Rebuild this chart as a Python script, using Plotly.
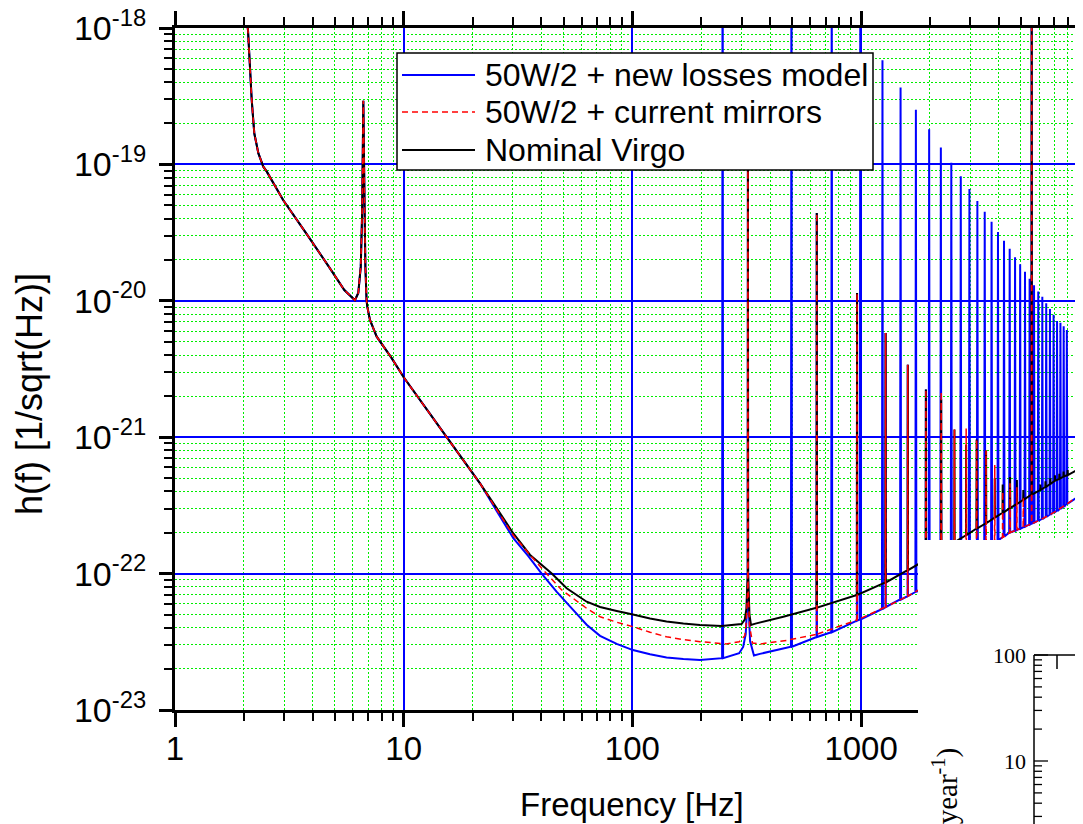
import numpy as np
import plotly.graph_objects as go

# ---------------- data ----------------
# common low-frequency part (all three curves coincide)
f_low = [2.03, 2.085, 2.127, 2.165, 2.222, 2.314, 2.433, 2.52, 2.97, 3.8, 4.76, 5.5,
         6.12, 6.33, 6.49, 6.58, 6.66, 6.75, 6.80, 6.88, 6.93, 7.12, 7.62, 8.86, 10.0,
         15.42, 21.56]
h_low = [1.41e-18, 9.66e-19, 5.20e-19, 2.96e-19, 1.69e-19, 1.21e-19, 9.62e-20, 8.85e-20,
         5.48e-20, 3.02e-20, 1.73e-20, 1.20e-20, 1.01e-20, 1.14e-20, 1.78e-20, 4.40e-20,
         2.93e-19, 4.37e-20, 1.78e-20, 1.01e-20, 9.06e-21, 7.24e-21, 5.46e-21, 3.80e-21,
         2.75e-21, 1.0e-21, 4.59e-22]

# Nominal Virgo (black)
f_black = [25.5, 30.15, 35.7, 44.4, 51.6, 63.1, 72.2, 85.4, 100.5, 119.4, 141, 167, 197.5,
           245.6, 300, 310, 315, 320, 325, 330, 345, 457, 640, 960, 1280, 1600, 1920, 2240,
           2560, 2880, 3200, 3520, 3840, 4160, 4480, 4800, 5120, 5570, 6080, 6400, 6720, 7040,
           7360, 7680, 8000, 9333, 10000]
h_black = [3.02e-22, 1.97e-22, 1.37e-22, 1.0e-22, 7.80e-23, 6.22e-23, 5.69e-23, 5.32e-23,
           5.01e-23, 4.68e-23, 4.45e-23, 4.30e-23, 4.20e-23, 4.13e-23, 4.27e-23, 4.6e-23,
           5.5e-23, 1.0e-22, 5.0e-23, 4.2e-23, 4.3e-23, 4.83e-23, 5.62e-23, 6.97e-23, 8.61e-23,
           1.06e-22, 1.26e-22, 1.48e-22, 1.70e-22, 1.91e-22, 2.14e-22, 2.34e-22, 2.57e-22,
           2.79e-22, 3.02e-22, 3.24e-22, 3.47e-22, 3.80e-22, 4.10e-22, 4.31e-22, 4.54e-22,
           4.79e-22, 4.95e-22, 5.14e-22, 5.28e-22, 6.08e-22, 6.46e-22]

# 50W/2 + current mirrors (red dashed)
f_red = [25.5, 30.15, 36.0, 42.1, 49.1, 63.1, 72.2, 85.4, 100.5, 119.4, 141, 167, 197.5, 257,
         293, 310, 315, 320, 325, 335, 363, 472, 640, 960, 1280, 1600, 1920, 2240, 2560, 2880,
         3200, 3520, 3840, 4160, 4480, 4800, 5120, 5570, 6056, 7000, 7925, 9333, 10000]
h_red = [2.95e-22, 1.91e-22, 1.35e-22, 1.0e-22, 7.59e-23, 5.56e-23, 4.83e-23, 4.40e-23,
         4.08e-23, 3.72e-23, 3.44e-23, 3.28e-23, 3.17e-23, 3.05e-23, 3.16e-23, 3.5e-23,
         4.5e-23, 8.0e-23, 4.2e-23, 3.1e-23, 3.05e-23, 3.24e-23, 3.59e-23, 4.57e-23, 5.69e-23,
         6.84e-23, 8.13e-23, 9.55e-23, 1.10e-22, 1.24e-22, 1.40e-22, 1.55e-22, 1.70e-22,
         1.84e-22, 2.0e-22, 2.09e-22, 2.19e-22, 2.32e-22, 2.47e-22, 2.82e-22, 3.24e-22,
         3.88e-22, 4.17e-22]

# 50W/2 + new losses model (blue)
f_blue = [25.5, 30.15, 35.0, 40.1, 46.6, 54.8, 63.1, 72.2, 85.4, 100.5, 119.4, 141, 167, 197.5,
          248, 293, 305, 313, 320, 327, 340, 361, 496, 640, 744, 960, 992, 1240, 1280, 1488,
          1600, 1736, 1920, 1984, 2232, 2480, 2728, 2976, 3224, 3472, 3720, 3968, 4216, 4464,
          4712, 4960, 5208, 5456, 5570, 5704, 5952, 6200, 6448, 6696, 6944, 7192, 7440, 7688,
          7936, 9333, 10000]
h_blue = [2.88e-22, 1.82e-22, 1.35e-22, 1.0e-22, 7.38e-23, 5.47e-23, 4.22e-23, 3.50e-23,
          3.05e-23, 2.75e-23, 2.56e-23, 2.43e-23, 2.37e-23, 2.33e-23, 2.40e-23, 2.61e-23,
          2.9e-23, 3.6e-23, 7.0e-23, 3.2e-23, 2.51e-23, 2.58e-23, 2.91e-23, 3.43e-23, 3.72e-23,
          4.52e-23, 4.62e-23, 5.50e-23, 5.69e-23, 6.46e-23, 6.84e-23, 7.33e-23, 8.13e-23,
          8.36e-23, 9.55e-23, 1.06e-22, 1.17e-22, 1.29e-22, 1.41e-22, 1.53e-22, 1.64e-22,
          1.76e-22, 1.87e-22, 2.0e-22, 2.06e-22, 2.14e-22, 2.21e-22, 2.29e-22, 2.32e-22,
          2.37e-22, 2.44e-22, 2.52e-22, 2.61e-22, 2.70e-22, 2.80e-22, 2.88e-22, 2.99e-22,
          3.09e-22, 3.24e-22, 3.88e-22, 4.17e-22]

# resonance lines (peak heights)
mirror_f = [320, 640, 960, 1280, 1600, 1920, 2240, 2560, 2880, 3200, 3520, 3840, 4160, 4480,
            4800, 5120, 5570, 6080, 6400, 6720, 7040, 7360, 7680, 8000]
mirror_peak_black = [2.5e-19, 4.4e-20, 1.14e-20, 5.8e-21, 3.4e-21, 2.24e-21, 1.9e-21, 1.14e-21,
                     8.8e-22, 9.6e-22, 8.0e-22, 5.0e-22, 4.5e-22, 5.1e-22, 4.85e-22, 4.1e-22,
                     3e-18, 4.5e-22, 4.75e-22, 5.0e-22, 5.25e-22, 5.4e-22, 5.6e-22, 5.75e-22]
mirror_peak_red = [2.5e-19, 4.4e-20, 1.14e-20, 5.8e-21, 3.4e-21, 2.24e-21, 2.16e-21, 1.14e-21,
                   1.16e-21, 9.6e-22, 8.0e-22, 6.25e-22, 4.0e-22, 4.6e-22, 4.3e-22, 3.6e-22,
                   3e-18, 4.5e-22, 4.75e-22, 5.0e-22, 5.25e-22, 5.4e-22, 5.6e-22, 5.75e-22]
comb_f = [248, 496, 744, 992, 1240, 1488, 1736, 1984, 2232, 2480, 2728, 2976, 3224, 3472, 3720,
          3968, 4216, 4464, 4712, 4960, 5208, 5456, 5704, 5952, 6200, 6448, 6696, 6944, 7192,
          7440, 7688, 7936]
comb_peak = [1e-16, 2e-17, 6e-18, 2e-18, 5.8e-19, 3.67e-19, 2.52e-19, 1.81e-19, 1.33e-19,
             1.03e-19, 8.2e-20, 6.6e-20, 5.4e-20, 4.5e-20, 3.8e-20, 3.2e-20, 2.76e-20, 2.41e-20,
             2.09e-20, 1.85e-20, 1.63e-20, 1.45e-20, 1.3e-20, 1.17e-20, 1.07e-20, 9.6e-21,
             8.7e-21, 7.9e-21, 7.1e-21, 6.9e-21, 6.5e-21, 6.1e-21]

x_tick_vals = [1, 10, 100, 1000]
x_tick_text = ["1", "10", "100", "1000"]
y_tick_exp = [-23, -22, -21, -20, -19, -18]

# ---------------- layout geometry ----------------
# the page adds an 8px body margin: figure pixels = screen pixels - 8
OFF = 8
W_FIG, H_FIG = 1083 - OFF, 824 - OFF
PLOT_L, PLOT_R, PLOT_T, PLOT_B = 175, 1083, 28, 710      # screen pixels
L = PLOT_L - OFF
R = 0
T = PLOT_T - OFF
B = H_FIG - (PLOT_B - OFF)
PW = PLOT_R - PLOT_L
PH = PLOT_B - PLOT_T


def px(x):  # screen x -> paper
    return (x - PLOT_L) / PW


def py(y):  # screen y -> paper
    return (PLOT_B - y) / PH


def build(freqs, base, spike_sets):
    sp = {}
    for fl, pl, w in spike_sets:
        for f, p in zip(fl, pl):
            sp[f] = (p, w)
    xs, ys = list(f_low), list(h_low)
    for f, b in zip(freqs, base):
        if f in sp:
            p, w = sp[f]
            xs += [f * (1 - w), f, f * (1 + w)]
            ys += [b, p, b]
        else:
            xs.append(f)
            ys.append(b)
    return xs, ys


xb, yb = build(f_black, h_black, [(mirror_f, mirror_peak_black, 0.002)])
xr, yr = build(f_red, h_red, [(mirror_f, mirror_peak_red, 0.002)])
xu, yu = build(f_blue, h_blue, [(mirror_f, mirror_peak_red, 0.002), (comb_f, comb_peak, 0.005)])

fig = go.Figure()
fig.add_trace(go.Scatter(x=xu, y=yu, mode="lines", name="50W/2 + new losses model",
                         line=dict(color="#0000ff", width=2, simplify=False), showlegend=False))
fig.add_trace(go.Scatter(x=xb, y=yb, mode="lines", name="Nominal Virgo",
                         line=dict(color="black", width=2, simplify=False), showlegend=False))
fig.add_trace(go.Scatter(x=xr, y=yr, mode="lines", name="50W/2 + current mirrors",
                         line=dict(color="#ff0000", width=1.5, dash="6px,4px", simplify=False),
                         showlegend=False))

minor_x = [m * 10 ** k for k in range(0, 4) for m in range(2, 10)]
minor_y = [m * 10.0 ** k for k in range(-23, -18) for m in range(2, 10)]

FONT = "Liberation Sans, Arial, sans-serif"

fig.update_xaxes(
    type="log", range=[0, PW / 228.7], tickvals=x_tick_vals, ticktext=x_tick_text,
    ticks="outside", ticklen=14, tickwidth=2.5, tickcolor="black",
    showline=True, linewidth=3, linecolor="black", mirror="ticks",
    showgrid=True, gridcolor="#0000ff", gridwidth=1.8, zeroline=False,
    tickfont=dict(family=FONT, size=33, color="black"), ticklabelstandoff=-7,
    ticklabeloverflow="allow",
    minor=dict(tickvals=minor_x, ticks="outside", ticklen=8, tickwidth=2, tickcolor="black",
               showgrid=True, gridcolor="#00ee00", gridwidth=1.2, griddash="2px,2px"),
    automargin=False,
)
fig.update_yaxes(
    type="log", range=[-23, -18], tickvals=[10.0 ** e for e in y_tick_exp],
    ticktext=["10<sup>%d</sup>" % e for e in y_tick_exp],
    ticks="outside", ticklen=13, tickwidth=2.5, tickcolor="black",
    showline=True, linewidth=3, linecolor="black", mirror=False,
    showgrid=True, gridcolor="#0000ff", gridwidth=1.8, zeroline=False,
    tickfont=dict(family=FONT, size=34, color="black"), ticklabelstandoff=6,
    ticklabeloverflow="allow",
    minor=dict(tickvals=minor_y, ticks="outside", ticklen=8, tickwidth=2, tickcolor="black",
               showgrid=True, gridcolor="#00ee00", gridwidth=1.2, griddash="2px,2px"),
    automargin=False,
)

shapes = []
annotations = []

# white panel hiding the lower-right corner (neighbouring figure)
shapes.append(dict(type="rect", xref="paper", yref="paper", x0=px(918), x1=px(1100),
                   y0=py(850), y1=py(540), fillcolor="white", line=dict(width=0), layer="above"))

# legend box
shapes.append(dict(type="rect", xref="paper", yref="paper", x0=px(397), x1=px(873),
                   y0=py(170), y1=py(53), fillcolor="white",
                   line=dict(color="black", width=1.5), layer="above"))
leg_rows = [("50W/2 + new losses model", "#0000ff", 2, "solid", 75),
            ("50W/2 + current mirrors", "#ff0000", 1.5, "6px,4px", 112),
            ("Nominal Virgo", "black", 2, "solid", 150)]
for text, col, w, dash, yy in leg_rows:
    shapes.append(dict(type="line", xref="paper", yref="paper", x0=px(402), x1=px(475),
                       y0=py(yy), y1=py(yy), line=dict(color=col, width=w, dash=dash),
                       layer="above"))
    annotations.append(dict(text=text, xref="paper", yref="paper", x=px(483), y=py(yy),
                            xanchor="left", yanchor="middle", showarrow=False,
                            font=dict(family=FONT, size=32, color="black")))

# axis titles
annotations.append(dict(text="Frequency [Hz]", xref="paper", yref="paper", x=px(632), y=py(805),
                        xanchor="center", yanchor="middle", showarrow=False,
                        font=dict(family=FONT, size=33, color="black")))
annotations.append(dict(text="h(f) [1/sqrt(Hz)]", xref="paper", yref="paper", x=px(29),
                        y=py(394), xanchor="center", yanchor="middle", showarrow=False,
                        textangle=-90, font=dict(family=FONT, size=36, color="black")))

# fragment of the neighbouring figure
SER = "Liberation Serif, Times New Roman, serif"
shapes.append(dict(type="line", xref="paper", yref="paper", x0=px(1034), x1=px(1034),
                   y0=py(655), y1=py(850), line=dict(color="black", width=1.5), layer="above"))
shapes.append(dict(type="line", xref="paper", yref="paper", x0=px(1034), x1=px(1100),
                   y0=py(655), y1=py(655), line=dict(color="black", width=1.5), layer="above"))
shapes.append(dict(type="line", xref="paper", yref="paper", x0=px(1057), x1=px(1057),
                   y0=py(655), y1=py(669), line=dict(color="black", width=1.5), layer="above"))
for v in [100, 90, 80, 70, 60, 50, 40, 30, 20, 10, 9, 8, 7, 6, 5, 4, 3]:
    yy = 655 + 106 * (2 - np.log10(v))
    ln = 14 if v in (10, 100) else 8
    shapes.append(dict(type="line", xref="paper", yref="paper", x0=px(1034), x1=px(1034 + ln),
                       y0=py(yy), y1=py(yy), line=dict(color="black", width=1.3), layer="above"))
annotations.append(dict(text="100", xref="paper", yref="paper", x=px(1028), y=py(655),
                        xanchor="right", yanchor="middle", showarrow=False,
                        font=dict(family=SER, size=22, color="black")))
annotations.append(dict(text="10", xref="paper", yref="paper", x=px(1028), y=py(761),
                        xanchor="right", yanchor="middle", showarrow=False,
                        font=dict(family=SER, size=22, color="black")))
annotations.append(dict(text="(year<sup>-1</sup>)", xref="paper", yref="paper", x=px(945),
                        y=py(746), xanchor="center", yanchor="top", showarrow=False,
                        textangle=-90, font=dict(family=SER, size=29, color="black")))

fig.update_layout(
    width=W_FIG, height=H_FIG,
    margin=dict(l=L, r=R, t=T, b=B, pad=0),
    paper_bgcolor="white", plot_bgcolor="white",
    showlegend=False,
    shapes=shapes, annotations=annotations,
    font=dict(family=FONT, color="black"),
)

fig.write_html("out.html")
